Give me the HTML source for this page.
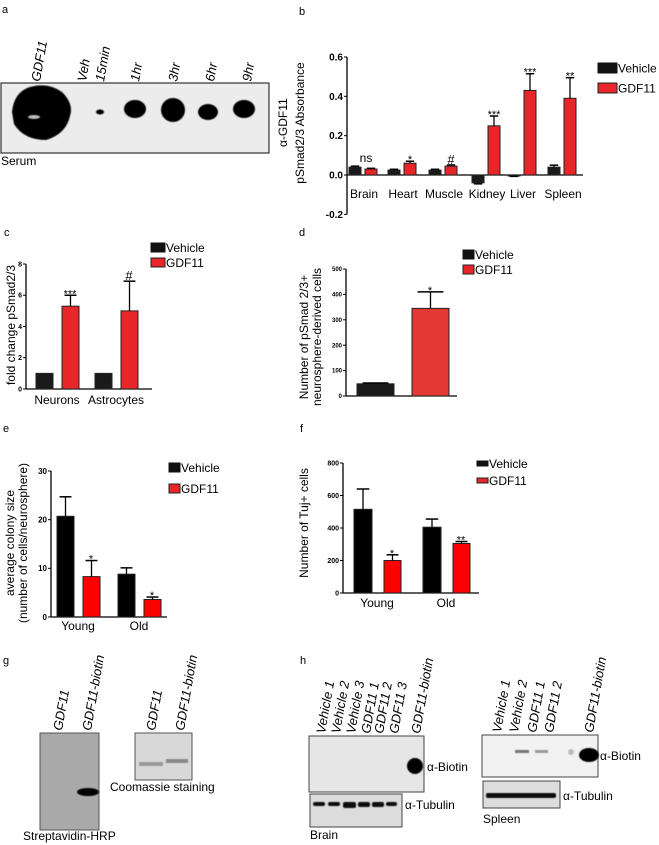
<!DOCTYPE html>
<html><head><meta charset="utf-8">
<style>
html,body{margin:0;padding:0;background:#fff;}
svg{display:block;font-family:"Liberation Sans",Arial,sans-serif;}
</style></head>
<body>
<svg id="fig" width="659" height="845" viewBox="0 0 659 845" xmlns="http://www.w3.org/2000/svg">
<defs>
<filter id="blur2"><feGaussianBlur stdDeviation="0.6"/></filter>
</defs>
<!-- Panel a -->
<g>
<text x="2" y="13" font-size="11">a</text>
<rect x="1" y="83" width="268" height="70" fill="#ececec" stroke="#333" stroke-width="1.2"/>
<g fill="#050505" filter="url(#blur2)">
<path d="M12 112 Q14 92 30 87 Q48 82 62 92 Q74 104 70 116 Q66 134 46 140 Q24 140 14 124Z"/>
<ellipse cx="100" cy="112" rx="4" ry="2.5"/>
<ellipse cx="135" cy="109" rx="11" ry="9"/>
<ellipse cx="173" cy="110" rx="12" ry="12"/>
<ellipse cx="208" cy="112" rx="10" ry="8"/>
<ellipse cx="244" cy="109" rx="11" ry="9"/>
</g>
<ellipse cx="34" cy="117" rx="6" ry="2" fill="#bbb" filter="url(#blur2)"/>
<g font-size="13" font-style="italic">
<text transform="translate(40,82) rotate(-80)">GDF11</text>
<text transform="translate(86,82) rotate(-80)">Veh</text>
<text transform="translate(104,82) rotate(-80)">15min</text>
<text transform="translate(139,82) rotate(-80)">1hr</text>
<text transform="translate(177,82) rotate(-80)">3hr</text>
<text transform="translate(214,82) rotate(-80)">6hr</text>
<text transform="translate(251,82) rotate(-80)">9hr</text>
</g>
<text transform="translate(287,147) rotate(-90)" font-size="12">α-GDF11</text>
<text x="1" y="165" font-size="12">Serum</text>
</g>

<g id="charts"></g>

<!-- Panel g -->
<g>
<text x="3" y="664" font-size="11">g</text>
<rect x="40" y="733" width="59" height="97" fill="#a9a9a9" stroke="#555" stroke-width="1"/>
<ellipse cx="88" cy="792" rx="11" ry="4" fill="#050505" filter="url(#blur2)"/>
<rect x="135" y="733" width="57" height="47" fill="#d8d8d8" stroke="#555" stroke-width="1"/>
<rect x="139" y="762" width="24" height="4" fill="#999" filter="url(#blur2)"/>
<rect x="166" y="759" width="22" height="4" fill="#888" filter="url(#blur2)"/>
<g font-size="13" font-style="italic">
<text transform="translate(62,731) rotate(-80)">GDF11</text>
<text transform="translate(91,731) rotate(-80)">GDF11-biotin</text>
<text transform="translate(155,731) rotate(-80)">GDF11</text>
<text transform="translate(184,731) rotate(-80)">GDF11-biotin</text>
</g>
<text x="23" y="840" font-size="12">Streptavidin-HRP</text>
<text x="110" y="791" font-size="12">Coomassie staining</text>
</g>

<!-- Panel h -->
<g>
<text x="300" y="664" font-size="11">h</text>
<rect x="309" y="736" width="115" height="56" fill="#e6e6e6" stroke="#444" stroke-width="1"/>
<ellipse cx="415" cy="766" rx="8" ry="8" fill="#050505" filter="url(#blur2)"/>
<rect x="310" y="794" width="92" height="33" fill="#dcdcdc" stroke="#444" stroke-width="1"/>
<g fill="#111" filter="url(#blur2)">
<rect x="313" y="802" width="12" height="4" rx="2"/><rect x="328" y="802" width="12" height="4" rx="2"/>
<rect x="343" y="802" width="13" height="6" rx="2"/><rect x="358" y="802" width="12" height="5" rx="2"/>
<rect x="372" y="802" width="12" height="5" rx="2"/><rect x="386" y="802" width="11" height="4" rx="2"/>
</g>
<text x="427" y="771" font-size="12">α-Biotin</text>
<text x="405" y="809" font-size="12">α-Tubulin</text>
<text x="310" y="839" font-size="12">Brain</text>
<g font-size="13" font-style="italic">
<text transform="translate(325,734) rotate(-80)">Vehicle 1</text>
<text transform="translate(340,734) rotate(-80)">Vehicle 2</text>
<text transform="translate(355,734) rotate(-80)">Vehicle 3</text>
<text transform="translate(370,734) rotate(-80)">GDF11 1</text>
<text transform="translate(383,734) rotate(-80)">GDF11 2</text>
<text transform="translate(398,734) rotate(-80)">GDF11 3</text>
<text transform="translate(420,734) rotate(-80)">GDF11-biotin</text>
</g>
<rect x="482" y="735" width="116" height="42" fill="#f2f2f2" stroke="#444" stroke-width="1"/>
<g filter="url(#blur2)">
<rect x="515" y="750" width="14" height="3" fill="#777"/>
<rect x="535" y="750" width="13" height="3" fill="#999"/>
<ellipse cx="571" cy="752" rx="3" ry="3" fill="#bbb"/>
<ellipse cx="589" cy="755" rx="10" ry="7" fill="#050505"/>
</g>
<rect x="483" y="781" width="77" height="27" fill="#dcdcdc" stroke="#444" stroke-width="1"/>
<rect x="486" y="793" width="70" height="5" rx="2" fill="#111" filter="url(#blur2)"/>
<text x="600" y="760" font-size="12">α-Biotin</text>
<text x="563" y="800" font-size="12">α-Tubulin</text>
<text x="483" y="823" font-size="12">Spleen</text>
<g font-size="13" font-style="italic">
<text transform="translate(501,733) rotate(-80)">Vehicle 1</text>
<text transform="translate(518,733) rotate(-80)">Vehicle 2</text>
<text transform="translate(536,733) rotate(-80)">GDF11 1</text>
<text transform="translate(553,733) rotate(-80)">GDF11 2</text>
<text transform="translate(593,733) rotate(-80)">GDF11-biotin</text>
</g>
</g>
</svg>
<script>
// Panel b data
const bCategories = ["Brain","Heart","Muscle","Kidney","Liver","Spleen"];
const bVehicle = [0.04,0.025,0.025,-0.04,-0.005,0.04];
const bVehicleErr = [0.005,0.004,0.004,0.005,0.002,0.01];
const bGdf11 = [0.03,0.06,0.045,0.25,0.43,0.39];
const bGdf11Err = [0.004,0.01,0.006,0.05,0.085,0.105];
const bSig = ["","*","#","***","***","**"];
const bTicks = [-0.2,0.0,0.2,0.4,0.6];
// Panel c data
const cCategories = ["Neurons","Astrocytes"];
const cVehicle = [1,1];
const cGdf11 = [5.3,5.0];
const cGdf11Err = [0.7,1.9];
const cSig = ["***","#"];
const cTicks = [0,2,4,6,8];
// Panel d data
const dVehicle = [48];
const dVehicleErr = [3];
const dGdf11 = [345];
const dGdf11Err = [65];
const dTicks = [0,100,200,300,400,500];
// Panel e data
const eCategories = ["Young","Old"];
const eVehicle = [20.7,8.8];
const eVehicleErr = [4.0,1.3];
const eGdf11 = [8.3,3.6];
const eGdf11Err = [3.3,0.5];
const eSig = ["*","*"];
const eTicks = [0,10,20,30];
// Panel f data
const fCategories = ["Young","Old"];
const fVehicle = [515,405];
const fVehicleErr = [125,50];
const fGdf11 = [200,305];
const fGdf11Err = [35,12];
const fSig = ["*","**"];
const fTicks = [0,200,400,600,800];

const NS="http://www.w3.org/2000/svg";
const root=document.getElementById('charts');
function mk(tag,attrs,parent){const e=document.createElementNS(NS,tag);for(const k in attrs)e.setAttribute(k,attrs[k]);(parent||root).appendChild(e);return e;}
function txt(s,attrs,parent){const e=mk('text',attrs,parent);e.textContent=s;return e;}

function axis(g,o){
  const y=v=>o.y0+(v-o.vmin)/(o.vmax-o.vmin)*(o.y1-o.y0);
  const ax=mk('line',{x1:o.ax,x2:o.ax,y1:y(o.ticks[0]),y2:y(o.ticks[o.ticks.length-1]),stroke:'#000','stroke-width':1.3},g);
  
  
  o.ticks.forEach(t=>{
    mk('line',{x1:o.ax-3,x2:o.ax,y1:y(t),y2:y(t),stroke:'#000','stroke-width':1},g);
    const tl=txt(o.fmt(t),{x:o.ax-4,y:y(t)+o.tfs*0.35,'font-size':o.tfs,'font-weight':'bold','text-anchor':'end'},g);
    
    
  });
  const xa=mk('line',{x1:o.ax,x2:o.axEnd,y1:y(0),y2:y(0),stroke:'#000','stroke-width':1.3},g);
  
  
  return y;
}
function bar(g,y,x,w,v,err,fill,name){
  const y0=y(0),yv=y(v);
  const r=mk('rect',{x:x,y:Math.min(y0,yv),width:w,height:Math.max(1,Math.abs(y0-yv)),fill:fill,stroke:'#222','stroke-width':1},g);
  
  
  if(err){
    const ye=v>=0?y(v+err):y(v-err);
    mk('line',{x1:x+w/2,x2:x+w/2,y1:yv,y2:ye,stroke:'#000','stroke-width':1.3},g);
    mk('line',{x1:x+w/2-w*0.35,x2:x+w/2+w*0.35,y1:ye,y2:ye,stroke:'#000','stroke-width':1.5},g);
  }
}
function star(g,s,x,capY){
  const t=txt(s,{x:x,y:s==='#'?capY-1:capY+2,'font-size':s==='#'?13:11,'text-anchor':'middle'},g);
  
  
}
function legend(g,x,y1,y2,w,h,fs,id){
  const a=mk('rect',{x:x,y:y1,width:w,height:h,fill:'#111',stroke:'#111'},g);
  
  
  const t1=txt('Vehicle',{x:x+w+1,y:y1+h/2+fs*0.36,'font-size':fs},g);
  
  
  const b=mk('rect',{x:x,y:y2,width:w,height:h,fill:'#e8262a',stroke:'#222'},g);
  
  
  const t2=txt('GDF11',{x:x+w+1,y:y2+h/2+fs*0.36,'font-size':fs},g);
  
  
}

// ---- Panel b
(function(){
  const g=mk('g',{});
  
  
  txt('b',{x:299,y:15,'font-size':11},g);
  const y=axis(g,{id:'b',ax:347,axEnd:583,y0:175,y1:57,vmin:0,vmax:0.6,ticks:bTicks,tfs:10,fmt:t=>t.toFixed(1)});
  const centers=[364,403,444,487,523,563];
  bCategories.forEach((c,i)=>{
    const cx=centers[i];
    bar(g,y,cx-15,12,bVehicle[i],bVehicleErr[i],'#1a1a1a','b-bar-vehicle-'+c.toLowerCase());
    bar(g,y,cx+1,12,bGdf11[i],bGdf11Err[i],'#e8262a','b-bar-gdf11-'+c.toLowerCase());
    const l=txt(c,{x:cx,y:198,'font-size':12,'text-anchor':'middle'},g);
    
    
    if(bSig[i]) star(g,bSig[i],cx+7,y(bGdf11[i]+bGdf11Err[i]));
  });
  txt('ns',{x:366,y:y(0.045)-4,'font-size':12,'text-anchor':'middle'},g);
  const yl=txt('pSmad2/3 Absorbance',{transform:'translate(304,123) rotate(-90)','font-size':12,'text-anchor':'middle'},g);
  
  
  legend(g,598,63,83,19,10,12,'b');
})();

// ---- Panel c
(function(){
  const g=mk('g',{});
  
  
  txt('c',{x:4,y:236,'font-size':11},g);
  const y=axis(g,{id:'c',ax:26,axEnd:152,y0:389,y1:264,vmin:0,vmax:8,ticks:cTicks,tfs:7,fmt:t=>String(t)});
  const xs=[36,95];
  cCategories.forEach((c,i)=>{
    bar(g,y,xs[i],17,cVehicle[i],0,'#1a1a1a','c-bar-vehicle-'+c.toLowerCase());
    bar(g,y,xs[i]+26,17,cGdf11[i],cGdf11Err[i],'#e8262a','c-bar-gdf11-'+c.toLowerCase());
    const l=txt(c,{x:xs[i]+21,y:404,'font-size':12,'text-anchor':'middle'},g);
    
    
    star(g,cSig[i],xs[i]+34,y(cGdf11[i]+cGdf11Err[i]));
  });
  const yl=txt('fold change pSmad2/3',{transform:'translate(15,325) rotate(-90)','font-size':12,'text-anchor':'middle'},g);
  
  
  legend(g,151,243,258,14,9,12,'c');
})();

// ---- Panel d
(function(){
  const g=mk('g',{});
  
  
  txt('d',{x:299,y:236,'font-size':11},g);
  const y=axis(g,{id:'d',ax:346,axEnd:457,y0:396,y1:269,vmin:0,vmax:500,ticks:dTicks,tfs:6,fmt:t=>String(t)});
  bar(g,y,357,37,dVehicle[0],dVehicleErr[0],'#1a1a1a','d-bar-vehicle');
  bar(g,y,412,37,dGdf11[0],dGdf11Err[0],'#e23a33','d-bar-gdf11');
  star(g,'*',430,y(dGdf11[0]+dGdf11Err[0]));
  const yl=txt('Number of pSmad 2/3+',{transform:'translate(308,337) rotate(-90)','font-size':12,'text-anchor':'middle'},g);
  
  
  txt('neurosphere-derived cells',{transform:'translate(321,337) rotate(-90)','font-size':12,'text-anchor':'middle'},g);
  legend(g,463,250,265,11,9,12,'d');
})();

// ---- Panel e
(function(){
  const g=mk('g',{});
  
  
  txt('e',{x:3,y:432,'font-size':11},g);
  const y=axis(g,{id:'e',ax:51,axEnd:167,y0:617,y1:471,vmin:0,vmax:30,ticks:eTicks,tfs:8,fmt:t=>String(t)});
  const xs=[57,118];
  eCategories.forEach((c,i)=>{
    bar(g,y,xs[i],17,eVehicle[i],eVehicleErr[i],'#000','e-bar-vehicle-'+c.toLowerCase());
    bar(g,y,xs[i]+26,17,eGdf11[i],eGdf11Err[i],'#f00','e-bar-gdf11-'+c.toLowerCase());
    const l=txt(c,{x:xs[i]+21,y:630,'font-size':12,'text-anchor':'middle'},g);
    
    
    star(g,eSig[i],xs[i]+34,y(eGdf11[i]+eGdf11Err[i]));
  });
  const yl=txt('average colony size',{transform:'translate(14,543) rotate(-90)','font-size':12,'text-anchor':'middle'},g);
  
  
  txt('(number of cells/neurosphere)',{transform:'translate(27,543) rotate(-90)','font-size':12,'text-anchor':'middle'},g);
  legend(g,169,463,484,11,9,12,'e');
})();

// ---- Panel f
(function(){
  const g=mk('g',{});
  
  
  txt('f',{x:300,y:432,'font-size':11},g);
  const y=axis(g,{id:'f',ax:343,axEnd:479,y0:593,y1:463,vmin:0,vmax:800,ticks:fTicks,tfs:7,fmt:t=>String(t)});
  const xs=[354,423];
  fCategories.forEach((c,i)=>{
    bar(g,y,xs[i],18,fVehicle[i],fVehicleErr[i],'#000','f-bar-vehicle-'+c.toLowerCase());
    bar(g,y,xs[i]+30,17,fGdf11[i],fGdf11Err[i],'#f00','f-bar-gdf11-'+c.toLowerCase());
    const l=txt(c,{x:xs[i]+23,y:607,'font-size':12,'text-anchor':'middle'},g);
    
    
    star(g,fSig[i],xs[i]+38,y(fGdf11[i]+fGdf11Err[i]));
  });
  const yl=txt('Number of Tuj+ cells',{transform:'translate(308,523) rotate(-90)','font-size':12,'text-anchor':'middle'},g);
  
  
  legend(g,477,461,478,11,5,12,'f');
})();
</script>
</body></html>
